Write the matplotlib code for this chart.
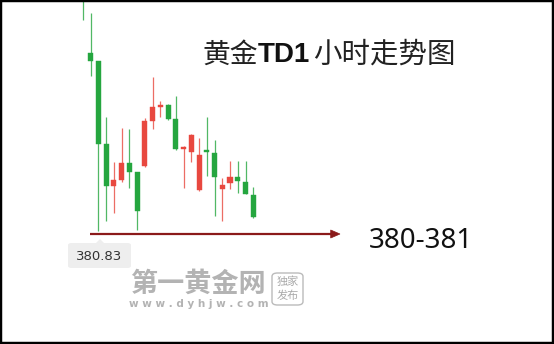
import matplotlib
matplotlib.use("Agg")
from matplotlib import pyplot as plt
from matplotlib.patches import Rectangle, FancyBboxPatch, Polygon

plt.rcParams['font.family'] = ['Noto Sans CJK SC', 'DejaVu Sans']

# hourly OHLC
opens = [391.2, 388.07, 387.75, 384.43, 382.75, 382.99, 383.67, 383.31, 383.55, 385.35, 385.91, 385.99,
         385.43, 384.23, 384.11, 382.59, 384.15, 384.07, 382.63, 382.87, 383.11, 382.91, 382.39]
highs = [391.5, 389.67, 387.75, 385.51, 383.71, 385.07, 385.03, 383.31, 385.47, 387.11, 386.15, 386.03,
         386.35, 384.35, 384.83, 384.67, 385.51, 384.59, 383.07, 383.75, 383.75, 383.75, 382.71]
lows = [389.39, 387.15, 380.95, 381.35, 381.67, 382.91, 382.67, 380.99, 383.51, 385.03, 385.51, 385.41,
        384.21, 382.67, 383.71, 382.55, 383.15, 381.55, 381.35, 382.63, 382.47, 382.43, 381.47]
closes = [390.5, 387.75, 384.43, 382.75, 382.99, 383.67, 383.31, 381.75, 385.35, 385.91, 385.99, 385.43,
          384.23, 384.27, 384.79, 383.99, 384.11, 383.11, 382.79, 383.11, 382.95, 382.43, 381.51]
is_up = [False, False, False, False, True, True, False, False, True, True, True, False,
         False, True, True, True, False, False, True, True, False, False, False]

low_price = 380.83
target_text = "380-381"

RED = '#e8483f'
GREEN = '#25a63f'

fig = plt.figure(figsize=(5.54, 3.44), dpi=100)
ax = fig.add_axes([0, 0, 1, 1])
ax.set_xlim(-10.72, 60.85)
ax.set_ylim(376.43, 390.19)
ax.axis('off')

for i in range(len(opens)):
    col = RED if is_up[i] else GREEN
    ax.vlines(i, lows[i], highs[i], color=col, lw=0.9, alpha=0.8)
    bottom = min(opens[i], closes[i])
    h = max(abs(closes[i] - opens[i]), 0.06)
    ax.add_patch(Rectangle((i - 0.33, bottom), 0.66, h, facecolor=col, edgecolor=col, lw=0.3))

# arrow at the low
ax.plot([0.9, 32.2], [low_price, low_price], color='#8b1a1a', lw=1.6, solid_capstyle='butt')
ax.add_patch(Polygon([[32.0, low_price + 0.16], [33.2, low_price], [32.0, low_price - 0.16]],
                     closed=True, facecolor='#8b1a1a', edgecolor='#8b1a1a', lw=0.5))

# low price tag
fig.patches.append(FancyBboxPatch((68 / 554, 1 - 268 / 344), 63 / 554, 25 / 344,
                                  boxstyle='round,pad=0,rounding_size=0.006',
                                  transform=fig.transFigure, facecolor='#eeeeee', edgecolor='none'))
fig.patches.append(Polygon([[96 / 554, 1 - 243 / 344], [100 / 554, 1 - 239 / 344], [104 / 554, 1 - 243 / 344]],
                           closed=True, transform=fig.transFigure, facecolor='#eeeeee', edgecolor='none'))
fig.text(99.5 / 554, 1 - 256 / 344, f"{low_price:.2f}", ha='center', va='center',
         fontsize=9.5, color='#333333', family='DejaVu Sans')

fig.text(369 / 554, 1 - 241 / 344, target_text, ha='left', va='center',
         fontsize=20, color='#111111', family='Noto Sans')

# title
fig.text(202 / 554, 1 - 55 / 344, "黄金", ha='left', va='center', fontsize=20, color='#222222')
fig.text(258 / 554, 1 - 55 / 344, "TD1", ha='left', va='center', fontsize=20, color='#111111',
         family='Liberation Sans', weight='bold')
fig.text(313 / 554, 1 - 55 / 344, "小时走势图", ha='left', va='center', fontsize=20.5, color='#222222')

# watermark
fig.text(198 / 554, 1 - 284 / 344, "第一黄金网", ha='center', va='center', fontsize=19.5,
         color='#b3b3b3', weight='bold')
fig.text(199 / 554, 1 - 304 / 344, "w w w . d y h j w . c o m", ha='center', va='center', fontsize=7.5,
         color='#b3b3b3', weight='bold', family='DejaVu Sans')
fig.patches.append(FancyBboxPatch((272 / 554, 1 - 305 / 344), 31 / 554, 32 / 344,
                                  boxstyle='round,pad=0,rounding_size=0.01',
                                  transform=fig.transFigure, facecolor='none',
                                  edgecolor='#bbbbbb', lw=1.0))
fig.text(287.5 / 554, 1 - 282 / 344, "独家", ha='center', va='center', fontsize=8, color='#aaaaaa')
fig.text(287.5 / 554, 1 - 296 / 344, "发布", ha='center', va='center', fontsize=8, color='#aaaaaa')

# black frame
fig.patches.append(Rectangle((0, 0), 1, 1, transform=fig.transFigure, facecolor='none',
                             edgecolor='black', lw=3.2))

fig.savefig('out.png', dpi=100)
